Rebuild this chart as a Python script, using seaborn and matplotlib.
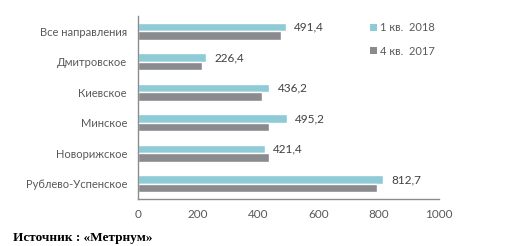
import matplotlib
matplotlib.use("Agg")
import matplotlib.pyplot as plt
import seaborn as sns
import pandas as pd
from matplotlib.patches import Patch

categories = ["Все направления", "Дмитровское", "Киевское", "Минское",
              "Новорижское", "Рублево-Успенское"]
q1_2018 = [491.4, 226.4, 436.2, 495.2, 421.4, 812.7]
q4_2017 = [475, 212, 411, 435, 435, 794]
series_names = ["1 кв.  2018", "4 кв.  2017"]
xticks = [0, 200, 400, 600, 800, 1000]

sns.set_theme(style="white")
plt.rcParams["font.family"] = ["Lato", "Open Sans", "DejaVu Sans"]

df = pd.DataFrame({
    "cat": categories * 2,
    "val": q1_2018 + q4_2017,
    "series": [series_names[0]] * len(categories) + [series_names[1]] * len(categories),
})

colors = ["#8ecbd6", "#898b8e"]

fig = plt.figure(figsize=(5.07, 2.46), dpi=100)
ax = fig.add_axes([0.2722, 0.191, 0.5937, 0.744])
sns.barplot(data=df, y="cat", x="val", hue="series", hue_order=series_names,
            palette=colors, orient="h", width=0.56, ax=ax, legend=False,
            saturation=1)

ax.set_xlim(0, 1000)
ax.set_xticks(xticks)
ax.set_xticklabels([str(t) for t in xticks])
ax.set_xlabel("")
ax.set_ylabel("")
ax.tick_params(axis="both", length=0, labelcolor="#595959")
ax.tick_params(axis="y", pad=8, labelsize=8)
ax.tick_params(axis="x", pad=7, labelsize=8.5)
for s in ["top", "right"]:
    ax.spines[s].set_visible(False)
for s in ["left", "bottom"]:
    ax.spines[s].set_color("#8c8c8c")
    ax.spines[s].set_linewidth(1)

# value labels for 1 кв. 2018 bars
cyan_container = ax.containers[0]
ax.bar_label(cyan_container, labels=[f"{v:.1f}".replace(".", ",") for v in q1_2018],
             padding=6, fontsize=8.5, color="#404040")

handles = [Patch(facecolor=c, edgecolor="none") for c in colors]
fig.legend(handles, series_names, loc="upper left", bbox_to_anchor=(0.71, 0.95),
           frameon=False, fontsize=8, handlelength=0.6, handleheight=0.6,
           handletextpad=0.3, labelspacing=1.1, labelcolor="#595959")

fig.text(0.025, 0.02, "Источник : «Метрнум»", family=["Liberation Serif", "DejaVu Serif"],
         fontweight="bold", fontsize=9.5, color="black")

fig.savefig("out.png", dpi=100, facecolor="white")
